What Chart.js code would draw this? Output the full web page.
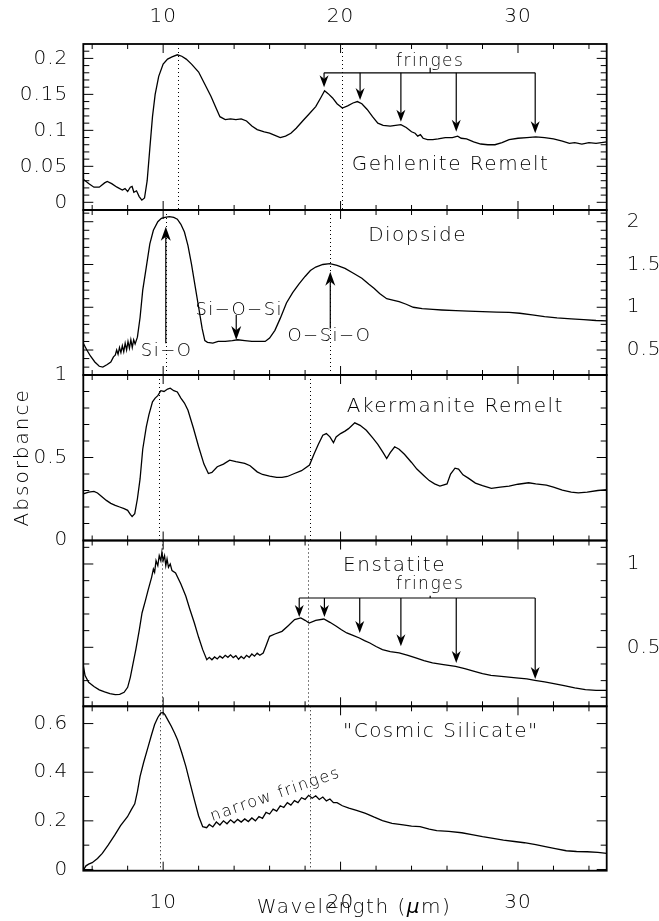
<!DOCTYPE html>
<html>
<head>
<meta charset="utf-8">
<script src="https://cdn.jsdelivr.net/npm/chart.js@4.4.1/dist/chart.umd.min.js"></script>
<style>
  body { margin: 0; background: #fff; }
  #wrap { position: relative; width: 659px; height: 921px; }
  #wrap canvas { position: absolute; left: 0; top: 0; }
</style>
</head>
<body>
<div id="wrap">
  <canvas id="p1" width="659" height="921"></canvas>
  <canvas id="p2" width="659" height="921"></canvas>
  <canvas id="p3" width="659" height="921"></canvas>
  <canvas id="p4" width="659" height="921"></canvas>
  <canvas id="p5" width="659" height="921"></canvas>
</div>
<script>
// wavelength (um), absorbance
const gehlenite = [
  [5.5,0.032],[5.8,0.026],[6.1,0.021],[6.4,0.021],[6.7,0.027],[6.85,0.029],[7.1,0.026],[7.4,0.021],
  [7.7,0.017],[7.85,0.019],[8.0,0.015],[8.15,0.021],[8.25,0.022],[8.35,0.014],[8.5,0.016],[8.65,0.008],
  [8.8,0.003],[8.95,0.006],[9.1,0.03],[9.25,0.075],[9.4,0.119],[9.55,0.15],[9.75,0.175],[10.0,0.192],
  [10.25,0.199],[10.5,0.202],[10.8,0.205],[11.05,0.203],[11.3,0.199],[11.6,0.192],[12.0,0.181],[12.35,0.164],
  [12.7,0.147],[13.0,0.13],[13.2,0.119],[13.5,0.115],[13.8,0.116],[14.1,0.115],[14.4,0.116],[14.7,0.113],
  [15.0,0.106],[15.3,0.101],[15.7,0.098],[16.0,0.096],[16.3,0.093],[16.6,0.09],[16.9,0.092],[17.2,0.096],
  [17.5,0.103],[17.9,0.114],[18.2,0.122],[18.6,0.133],[18.9,0.146],[19.1,0.155],[19.3,0.151],[19.55,0.145],
  [19.8,0.137],[20.1,0.131],[20.4,0.134],[20.7,0.138],[20.95,0.14],[21.2,0.137],[21.5,0.129],[21.8,0.119],
  [22.1,0.11],[22.4,0.107],[22.8,0.106],[23.1,0.107],[23.4,0.108],[23.7,0.104],[24.0,0.098],[24.2,0.096],
  [24.35,0.092],[24.5,0.094],[24.65,0.089],[24.9,0.087],[25.2,0.087],[25.5,0.088],[25.9,0.09],[26.3,0.09],
  [26.6,0.092],[26.8,0.089],[27.1,0.088],[27.5,0.084],[27.9,0.081],[28.3,0.08],[28.7,0.08],[29.1,0.083],
  [29.5,0.087],[30.0,0.089],[30.5,0.09],[31.0,0.091],[31.5,0.09],[32.0,0.088],[32.5,0.085],[32.9,0.082],
  [33.2,0.083],[33.6,0.081],[34.0,0.083],[34.4,0.082],[35.0,0.084]
];
const diopside = [
  [5.5,0.58],[5.7,0.5],[5.9,0.43],[6.15,0.36],[6.4,0.31],[6.6,0.3],[6.85,0.33],[7.05,0.36],[7.2,0.42],
  [7.3,0.44],[7.38,0.5],[7.46,0.45],[7.54,0.53],[7.62,0.47],[7.7,0.55],[7.78,0.48],[7.86,0.58],[7.94,0.5],
  [8.02,0.6],[8.1,0.52],[8.18,0.62],[8.26,0.53],[8.34,0.62],[8.42,0.57],[8.55,0.65],[8.7,0.88],[8.85,1.2],
  [9.05,1.47],[9.25,1.74],[9.45,1.9],[9.7,2.0],[9.9,2.04],[10.1,2.05],[10.35,2.06],[10.6,2.05],[10.8,2.03],
  [11.0,1.97],[11.2,1.88],[11.4,1.72],[11.6,1.5],[11.8,1.25],[12.0,1.0],[12.2,0.75],[12.35,0.61],[12.5,0.59],
  [12.8,0.58],[13.1,0.6],[13.5,0.6],[13.9,0.61],[14.2,0.62],[14.6,0.61],[15.0,0.6],[15.4,0.6],[15.75,0.6],
  [16.0,0.64],[16.3,0.73],[16.6,0.87],[16.95,1.05],[17.3,1.17],[17.65,1.27],[18.0,1.36],[18.3,1.43],
  [18.6,1.47],[19.0,1.5],[19.4,1.51],[19.8,1.49],[20.25,1.455],[20.7,1.4],[21.2,1.34],[21.6,1.27],
  [21.9,1.22],[22.2,1.16],[22.6,1.1],[23.0,1.08],[23.3,1.065],[23.7,1.035],[24.1,1.0],[24.6,0.985],
  [25.2,0.975],[25.7,0.968],[26.5,0.96],[27.2,0.955],[28.0,0.948],[28.8,0.944],[29.5,0.94],[30.1,0.93],
  [30.8,0.91],[31.5,0.89],[32.2,0.875],[33.0,0.865],[33.7,0.855],[34.4,0.845],[35.0,0.84]
];
const akermanite = [
  [5.5,0.28],[5.8,0.29],[6.1,0.295],[6.3,0.285],[6.55,0.262],[6.8,0.24],[7.05,0.222],[7.3,0.21],
  [7.55,0.2],[7.8,0.19],[8.0,0.18],[8.15,0.155],[8.25,0.142],[8.4,0.16],[8.55,0.25],[8.7,0.37],
  [8.85,0.55],[9.05,0.685],[9.2,0.76],[9.4,0.837],[9.55,0.86],[9.7,0.875],[9.87,0.905],[10.05,0.9],
  [10.25,0.915],[10.4,0.92],[10.6,0.905],[10.8,0.897],[11.0,0.86],[11.2,0.83],[11.4,0.786],[11.7,0.68],
  [12.0,0.565],[12.3,0.46],[12.55,0.403],[12.75,0.41],[13.05,0.444],[13.4,0.46],[13.75,0.484],[14.1,0.475],
  [14.6,0.464],[14.9,0.45],[15.3,0.413],[15.6,0.397],[16.0,0.387],[16.4,0.38],[16.7,0.379],[17.0,0.385],
  [17.4,0.403],[17.8,0.42],[18.25,0.454],[18.5,0.52],[18.75,0.58],[19.0,0.635],[19.2,0.645],[19.4,0.625],
  [19.6,0.59],[19.75,0.625],[20.0,0.645],[20.25,0.66],[20.45,0.675],[20.8,0.71],[21.1,0.695],[21.45,0.665],
  [21.8,0.62],[22.1,0.58],[22.4,0.53],[22.6,0.494],[22.8,0.53],[23.05,0.565],[23.3,0.55],[23.6,0.52],
  [24.0,0.47],[24.3,0.43],[24.7,0.39],[25.0,0.36],[25.3,0.34],[25.6,0.327],[26.0,0.34],[26.2,0.4],
  [26.45,0.435],[26.65,0.43],[26.9,0.395],[27.2,0.375],[27.6,0.345],[28.0,0.33],[28.5,0.313],[29.0,0.32],
  [29.5,0.327],[30.0,0.338],[30.6,0.347],[31.0,0.34],[31.6,0.332],[32.0,0.32],[32.5,0.303],[33.0,0.29],
  [33.4,0.286],[33.9,0.29],[34.5,0.3],[35.0,0.305]
];
const enstatite = [
  [5.5,0.39],[5.6,0.33],[5.8,0.29],[6.1,0.265],[6.4,0.245],[6.7,0.232],[7.0,0.222],[7.3,0.216],
  [7.55,0.218],[7.8,0.23],[8.0,0.26],[8.15,0.32],[8.3,0.4],[8.46,0.486],[8.65,0.6],[8.81,0.706],
  [9.0,0.78],[9.16,0.846],[9.35,0.92],[9.45,0.97],[9.52,0.95],[9.6,1.02],[9.7,0.99],[9.78,1.05],
  [9.87,1.02],[9.93,1.07],[10.0,1.02],[10.08,1.05],[10.15,0.99],[10.22,1.03],[10.3,0.98],[10.4,1.0],
  [10.5,0.96],[10.7,0.946],[11.0,0.88],[11.28,0.806],[11.5,0.73],[11.76,0.646],[12.0,0.56],[12.23,0.486],
  [12.46,0.426],[12.6,0.44],[12.75,0.425],[12.9,0.442],[13.05,0.43],[13.2,0.447],[13.35,0.435],[13.5,0.452],
  [13.65,0.44],[13.8,0.455],[13.95,0.438],[14.1,0.45],[14.25,0.428],[14.4,0.445],[14.55,0.432],[14.7,0.452],
  [14.85,0.44],[15.0,0.46],[15.15,0.447],[15.3,0.465],[15.45,0.452],[15.64,0.466],[15.8,0.51],[16.0,0.566],
  [16.3,0.58],[16.7,0.596],[17.05,0.63],
  [17.41,0.666],[17.76,0.676],[18.0,0.662],[18.23,0.646],[18.6,0.662],[19.06,0.67],[19.4,0.65],[19.76,0.626],
  [20.05,0.605],[20.35,0.586],[20.7,0.572],[21.06,0.556],[21.35,0.54],[21.65,0.526],[22.0,0.505],[22.36,0.486],
  [22.8,0.474],[23.3,0.466],[23.8,0.452],[24.24,0.436],[24.7,0.42],[25.18,0.406],[25.8,0.396],[26.48,0.386],
  [27.0,0.372],[27.54,0.356],[28.0,0.342],[28.48,0.332],[29.2,0.324],[29.89,0.316],[30.5,0.31],[30.95,0.302],
  [31.5,0.292],[32.02,0.282],[32.6,0.27],[33.2,0.256],[33.8,0.246],[34.4,0.242],[35.0,0.242]
];
const cosmicSilicate = [
  [5.5,-0.003],[5.65,0.015],[5.8,0.022],[6.0,0.028],[6.3,0.045],[6.57,0.066],[6.9,0.1],[7.28,0.142],
  [7.6,0.18],[7.99,0.217],[8.2,0.245],[8.4,0.27],[8.55,0.32],[8.7,0.383],[8.9,0.44],[9.16,0.506],
  [9.35,0.555],[9.52,0.596],[9.7,0.625],[9.87,0.644],[10.0,0.645],[10.1,0.637],[10.3,0.61],[10.46,0.589],
  [10.65,0.56],[10.81,0.534],[11.05,0.48],[11.28,0.424],[11.5,0.36],[11.76,0.286],[12.0,0.22],[12.23,0.176],
  [12.45,0.172],[12.6,0.185],[12.8,0.175],[13.0,0.195],[13.2,0.183],[13.4,0.2],[13.6,0.188],[13.8,0.204],
  [14.0,0.192],[14.2,0.206],[14.4,0.195],[14.6,0.208],[14.8,0.197],[15.0,0.212],[15.2,0.2],[15.4,0.218],
  [15.6,0.21],[15.8,0.235],[16.0,0.228],[16.2,0.248],[16.4,0.24],[16.6,0.262],[16.8,0.255],[17.0,0.275],
  [17.2,0.265],[17.4,0.283],[17.6,0.275],[17.8,0.295],[18.0,0.288],[18.2,0.305],[18.4,0.293],[18.6,0.303],
  [18.8,0.288],[19.0,0.298],[19.2,0.282],[19.4,0.29],[19.6,0.275],[19.8,0.275],[20.1,0.262],[20.47,0.252],
  [20.9,0.243],[21.41,0.231],[21.9,0.215],[22.36,0.201],[22.9,0.19],[23.53,0.183],[24.0,0.178],[24.48,0.176],
  [25.0,0.166],[25.42,0.16],[26.1,0.157],[26.83,0.151],[27.4,0.143],[28.0,0.135],[28.6,0.128],[29.18,0.121],
  [29.8,0.115],[30.36,0.11],[31.0,0.102],[31.54,0.094],[32.1,0.086],[32.72,0.077],[33.3,0.074],[33.9,0.073],
  [34.5,0.07],[35.0,0.066]
];

// tick labels
const xTickVals = [10, 20, 30];
const gehleniteTicks = [0, 0.05, 0.1, 0.15, 0.2];
const diopsideTicks = [0.5, 1, 1.5, 2];
const akermaniteTicks = [0, 0.5, 1];
const enstatiteTicks = [0.5, 1];
const cosmicTicks = [0, 0.2, 0.4, 0.6];

// marker positions (um) and arrow tips (absorbance)
const gehleniteFringeWl = [19.07, 21.1, 23.4, 26.52, 30.97];
const gehleniteFringeTip = [0.16, 0.142, 0.112, 0.098, 0.096];
const enstatiteFringeWl = [17.67, 19.09, 21.08, 23.4, 26.52, 30.97];
const enstatiteFringeTip = [0.682, 0.682, 0.586, 0.506, 0.406, 0.31];

const FONT = '"DejaVu Sans", "Liberation Sans", sans-serif';
const PAGE_W = 659, PAGE_H = 921;
const FRAME_L = 83.3, FRAME_R = 606.7;
const edges = [44, 210, 375, 540.5, 706.3, 870.7];

const panels = {
  p1: {
    data: gehlenite, yMin: -0.0107, yMax: 0.22, ticks: gehleniteTicks, yPos: 'left', xPos: 'top',
    minor: 0.01, major: 0.05, dotted: [10.81, 20.08],
    texts: [['Gehlenite Remelt', 26.2, 0.052, 20], ['fringes', 25.05, 0.195, 17]],
    bracket: { wl: gehleniteFringeWl, tip: gehleniteFringeTip, y: 0.18, label: 25.05, labelTop: 0.187 }
  },
  p2: {
    data: diopside, yMin: 0.208, yMax: 2.137, ticks: diopsideTicks, yPos: 'right',
    minor: 0.1, major: 0.5, dotted: [10.15, 19.42],
    texts: [['Diopside', 24.34, 1.83, 20], ['Si\u2212O\u2212Si', 14.29, 0.968, 18],
            ['Si\u2212O', 10.2, 0.48, 18], ['O\u2212Si\u2212O', 19.37, 0.656, 18]],
    arrows: [[10.15, 0.58, 1.94], [14.12, 0.909, 0.617], [19.42, 0.753, 1.416]]
  },
  p3: {
    data: akermanite, yMin: -0.003, yMax: 1.0, ticks: akermaniteTicks, yPos: 'left',
    minor: 0.1, major: 0.5, dotted: [9.79, 18.26],
    texts: [['Akermanite Remelt', 26.47, 0.81, 20]]
  },
  p4: {
    data: enstatite, yMin: 0.146, yMax: 1.141, ticks: enstatiteTicks, yPos: 'right',
    minor: 0.1, major: 0.5, dotted: [9.91, 18.19],
    texts: [['Enstatite', 23.04, 0.99, 20], ['fringes', 25.05, 0.876, 17]],
    bracket: { wl: enstatiteFringeWl, tip: enstatiteFringeTip, y: 0.796, label: 25.05, labelTop: 0.81 }
  },
  p5: {
    data: cosmicSilicate, yMin: -0.005, yMax: 0.671, ticks: cosmicTicks, yPos: 'left', xPos: 'bottom',
    minor: 0.1, major: 0.2, dotted: [9.82, 18.26],
    texts: [['"Cosmic Silicate"', 25.65, 0.568, 20]]
  }
};

function arrowHead(ctx, px, py, dir, len, half) {
  // dir = +1 pointing down, -1 pointing up
  ctx.beginPath();
  ctx.moveTo(px, py);
  ctx.lineTo(px - half, py - dir * len);
  ctx.lineTo(px, py - dir * len * 0.7);
  ctx.lineTo(px + half, py - dir * len);
  ctx.closePath();
  ctx.fill();
}

function vArrow(ctx, x, y, wl, from, to, len, half) {
  const px = x.getPixelForValue(wl);
  const y1 = y.getPixelForValue(from), y2 = y.getPixelForValue(to);
  const dir = y2 > y1 ? 1 : -1;
  ctx.beginPath();
  ctx.moveTo(px, y1);
  ctx.lineTo(px, y2 - dir * len * 0.7);
  ctx.stroke();
  arrowHead(ctx, px, y2, dir, len, half);
}

const decoPlugin = {
  id: 'deco',
  beforeDraw(chart) {
    chart.ctx.letterSpacing = '1px';
  },
  afterDraw(chart) {
    const cfg = panels[chart.canvas.id];
    const { ctx, chartArea: a } = chart;
    const x = chart.scales.x, y = chart.scales.y;
    ctx.save();
    ctx.strokeStyle = '#000';
    ctx.fillStyle = '#000';

    // dotted reference lines
    ctx.lineWidth = 1;
    ctx.setLineDash([1, 3]);
    cfg.dotted.forEach(v => {
      const px = Math.round(x.getPixelForValue(v)) + 0.5;
      ctx.beginPath();
      ctx.moveTo(px, a.top);
      ctx.lineTo(px, a.bottom);
      ctx.stroke();
    });
    ctx.setLineDash([]);

    // arrows
    ctx.lineWidth = 1.2;
    (cfg.arrows || []).forEach(([wl, from, to]) => vArrow(ctx, x, y, wl, from, to, 14, 5));
    if (cfg.bracket) {
      const b = cfg.bracket;
      const by = y.getPixelForValue(b.y);
      ctx.beginPath();
      ctx.moveTo(x.getPixelForValue(b.wl[0]), by);
      ctx.lineTo(x.getPixelForValue(b.wl[b.wl.length - 1]), by);
      ctx.moveTo(x.getPixelForValue(b.label), by);
      ctx.lineTo(x.getPixelForValue(b.label), y.getPixelForValue(b.labelTop));
      ctx.stroke();
      b.wl.forEach((wl, i) => vArrow(ctx, x, y, wl, b.y, b.tip[i], 12, 4.5));
    }

    // inward tick marks
    ctx.lineWidth = 1;
    ctx.beginPath();
    for (let v = 6; v <= 34; v += 2) {
      const px = x.getPixelForValue(v);
      const len = v % 10 === 0 ? 9 : 5;
      ctx.moveTo(px, a.top); ctx.lineTo(px, a.top + len);
      ctx.moveTo(px, a.bottom); ctx.lineTo(px, a.bottom - len);
    }
    const k0 = Math.ceil(cfg.yMin / cfg.minor - 1e-6), k1 = Math.floor(cfg.yMax / cfg.minor + 1e-6);
    for (let k = k0; k <= k1; k++) {
      const v = k * cfg.minor;
      const r = v / cfg.major;
      const len = Math.abs(r - Math.round(r)) < 1e-6 ? 10 : 6;
      const py = y.getPixelForValue(v);
      if (py < a.top + 1 || py > a.bottom - 1) continue;
      ctx.moveTo(a.left, py); ctx.lineTo(a.left + len, py);
      ctx.moveTo(a.right, py); ctx.lineTo(a.right - len, py);
    }
    ctx.stroke();

    // frame
    ctx.lineWidth = 1.8;
    ctx.strokeRect(a.left, a.top, a.right - a.left, a.bottom - a.top);

    // texts
    ctx.letterSpacing = '1.5px';
    ctx.textAlign = 'center';
    ctx.textBaseline = 'middle';
    cfg.texts.forEach(([s, wl, v, size]) => {
      ctx.font = '200 ' + size + 'px ' + FONT;
      ctx.fillText(s, x.getPixelForValue(wl), y.getPixelForValue(v));
    });

    if (chart.canvas.id === 'p5') {
      ctx.save();
      ctx.font = '200 16px ' + FONT;
      ctx.translate(x.getPixelForValue(16.33), y.getPixelForValue(0.307));
      ctx.rotate(-19 * Math.PI / 180);
      ctx.fillText('narrow fringes', 0, 0);
      ctx.restore();

      // axis title with italic mu
      const parts = [['Wavelength (', ''], ['\u03bc', 'italic '], ['m)', '']];
      let total = 0;
      parts.forEach(p => { ctx.font = p[1] + '200 20px ' + FONT; p.push(ctx.measureText(p[0]).width); total += p[2]; });
      let cx = 354 - total / 2;
      ctx.textAlign = 'left';
      parts.forEach(p => { ctx.font = p[1] + '200 20px ' + FONT; ctx.fillText(p[0], cx, 908); cx += p[2]; });
    }
    if (chart.canvas.id === 'p3') {
      ctx.save();
      ctx.font = '200 20px ' + FONT;
      ctx.letterSpacing = '2px';
      ctx.translate(22.8, 457.3);
      ctx.rotate(-Math.PI / 2);
      ctx.fillText('Absorbance', 0, 0);
      ctx.restore();
    }
    ctx.restore();
  }
};

function makePanel(id, idx) {
  const cfg = panels[id];
  const tickFont = { family: FONT, size: 20, weight: '200' };
  const top = edges[idx], bottom = edges[idx + 1];
  // the axis boxes are sized so that their labels are not clipped
  const pad = {
    left: cfg.yPos === 'left' ? 0 : FRAME_L,
    right: cfg.yPos === 'right' ? 0 : PAGE_W - FRAME_R,
    top: cfg.xPos === 'top' ? 0 : top,
    bottom: cfg.xPos === 'bottom' ? 0 : PAGE_H - bottom
  };
  const yBox = cfg.yPos === 'left' ? FRAME_L : PAGE_W - FRAME_R;
  const xBox = cfg.xPos === 'top' ? top : cfg.xPos === 'bottom' ? PAGE_H - bottom : 0;
  return new Chart(document.getElementById(id), {
    type: 'line',
    data: {
      datasets: [{
        data: cfg.data.map(([wl, ab]) => ({ x: wl, y: ab })),
        borderColor: '#000',
        borderWidth: 1.3,
        pointRadius: 0,
        tension: 0,
        fill: false
      }]
    },
    options: {
      responsive: false,
      animation: false,
      devicePixelRatio: 1,
      events: [],
      layout: { padding: pad },
      plugins: { legend: { display: false }, tooltip: { enabled: false } },
      scales: {
        x: {
          type: 'linear', min: 5.5, max: 35,
          display: !!cfg.xPos,
          position: cfg.xPos || 'bottom',
          afterFit: s => { s.height = xBox; },
          afterBuildTicks: s => { s.ticks = xTickVals.map(v => ({ value: v })); },
          grid: { display: false, drawTicks: false },
          border: { display: false },
          ticks: {
            color: '#000', font: tickFont, maxRotation: 0, autoSkip: false,
            padding: cfg.xPos === 'top' ? 15 : 20,
            callback: v => String(v)
          }
        },
        y: {
          type: 'linear', min: cfg.yMin, max: cfg.yMax,
          position: cfg.yPos,
          afterFit: s => { s.width = yBox; },
          afterBuildTicks: s => { s.ticks = cfg.ticks.map(v => ({ value: v })); },
          grid: { display: false, drawTicks: false },
          border: { display: false },
          ticks: {
            color: '#000', font: tickFont, autoSkip: false,
            padding: cfg.yPos === 'left' ? 15 : 20,
            callback: v => String(v)
          }
        }
      }
    },
    plugins: [decoPlugin]
  });
}

['p1', 'p2', 'p3', 'p4', 'p5'].forEach((id, i) => makePanel(id, i));
</script>
</body>
</html>
